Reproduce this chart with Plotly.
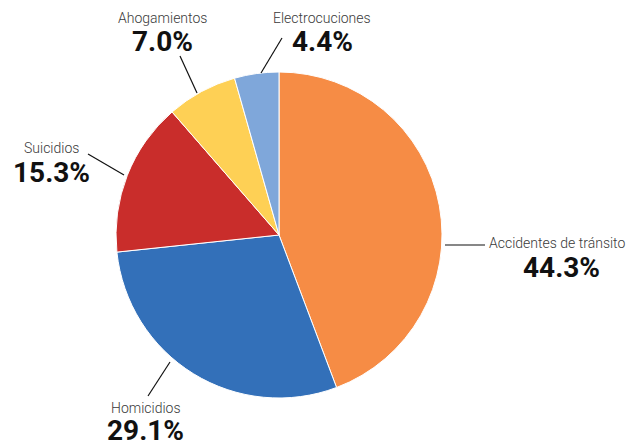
import plotly.graph_objects as go

# ---- data ----
categories = ["Accidentes de tránsito", "Homicidios", "Suicidios", "Ahogamientos", "Electrocuciones"]
percentages = [44.3, 29.1, 15.3, 7.0, 4.4]
colors = ["#F68C45", "#3370B9", "#C92D2B", "#FED055", "#7FA7DA"]

# ---- layout config (pixels, style only) ----
W, H = 633, 445
CX, CY, R = 279, 235, 163
# label text center (name row), percent row center, leader line (outer -> inner)
label_layout = {
    "Accidentes de tránsito": dict(name=(557, 243), pct=(561, 267), line=((485, 245), (445, 245))),
    "Homicidios": dict(name=(146, 408), pct=(145, 430), line=((148, 396), (170, 362))),
    "Suicidios": dict(name=(51, 148), pct=(51, 172), line=((88, 154), (124, 175))),
    "Ahogamientos": dict(name=(162, 18), pct=(162, 42), line=((180, 56), (197, 93))),
    "Electrocuciones": dict(name=(322, 18), pct=(322, 42), line=((282, 38), (261, 73))),
}


def px(x):
    return x / W


def py(y):
    return 1 - y / H


fig = go.Figure()
fig.add_trace(go.Pie(
    labels=categories,
    values=percentages,
    marker=dict(colors=colors, line=dict(color="white", width=1)),
    sort=False,
    direction="clockwise",
    rotation=0,
    textinfo="none",
    hoverinfo="label+percent",
    showlegend=False,
    domain=dict(x=[px(CX - R), px(CX + R)], y=[py(CY + R), py(CY - R)]),
))

annotations = []
shapes = []
for cat, val in zip(categories, percentages):
    cfg = label_layout[cat]
    annotations.append(dict(
        x=px(cfg["name"][0]), y=py(cfg["name"][1]), xref="paper", yref="paper",
        text=cat, showarrow=False, xanchor="center", yanchor="middle",
        font=dict(family="Roboto", size=14, color="#3a3a3a", weight=300),
    ))
    annotations.append(dict(
        x=px(cfg["pct"][0]), y=py(cfg["pct"][1]), xref="paper", yref="paper",
        text=f"{val:.1f}%", showarrow=False, xanchor="center", yanchor="middle",
        font=dict(family="Roboto", size=28, color="#111111", weight=700),
    ))
    (x0, y0), (x1, y1) = cfg["line"]
    shapes.append(dict(
        type="line", xref="paper", yref="paper",
        x0=px(x0), y0=py(y0), x1=px(x1), y1=py(y1),
        line=dict(color="#111111", width=1.2),
    ))

fig.update_layout(
    width=W, height=H,
    margin=dict(l=0, r=0, t=0, b=0),
    paper_bgcolor="white",
    plot_bgcolor="white",
    annotations=annotations,
    shapes=shapes,
)

fig.write_html(
    "out.html",
    config={"displayModeBar": False},
    post_script="document.body.style.margin='0';document.body.style.overflow='hidden';",
)
